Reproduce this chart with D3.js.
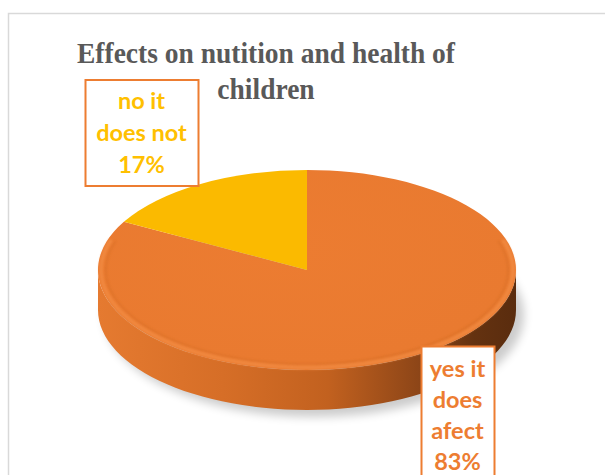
<!DOCTYPE html>
<html><head><meta charset="utf-8">
<script src="https://cdn.jsdelivr.net/npm/d3@7"></script>
<style>body{margin:0;background:#fff}svg{display:block}</style>
</head><body>
<script>
const titleLines = ["Effects on nutition and health of", "children"];
const categories = ["yes it does afect", "no it does not"];
const values = [83, 17];
const labelLines = [["yes it", "does", "afect", "83%"], ["no it", "does not", "17%"]];
const colors = ["#EC7C31", "#FBBA00"];
const textColors = ["#ED7D31", "#FFC000"];

(function () {
const W = 605, H = 475;
const svg = d3.select("body").append("svg").attr("width", W).attr("height", H);
const defs = svg.append("defs");

// frame
svg.append("rect").attr("x", 8.5).attr("y", 13.5).attr("width", 620).attr("height", 500)
  .attr("fill", "#fff").attr("stroke", "#D9D9D9").attr("stroke-width", 1.5);

// title
const ts = 1.08;
const title = svg.append("text").attr("text-anchor", "middle")
  .attr("transform", `translate(266,62.5) scale(1,${ts})`)
  .attr("font-family", "'Liberation Serif','Times New Roman',serif").attr("font-weight", "bold")
  .attr("font-size", 27.5).attr("fill", "#595959");
titleLines.forEach((t, i) => title.append("tspan").attr("x", 0).attr("y", i * 37 / ts).text(t));

// pie geometry
const cx = 307, cy = 270, rx = 209, ry = 100, depth = 40;
const pie = d3.pie().sort(null).value(d => d);
const arcsData = pie(values);
const arc = d3.arc().innerRadius(0).outerRadius(rx);
const ex = a => cx + rx * Math.sin(a);
const ey = a => cy - ry * Math.cos(a);

// shadow
const blur = defs.append("filter").attr("id", "blur").attr("x", "-20%").attr("y", "-20%").attr("width", "140%").attr("height", "140%");
blur.append("feGaussianBlur").attr("stdDeviation", 5);
svg.append("ellipse").attr("cx", cx + 7).attr("cy", cy + depth + 5).attr("rx", rx + 1).attr("ry", ry + 2)
  .attr("fill", "#000").attr("opacity", 0.2).attr("filter", "url(#blur)");

// side gradient
const sg = defs.append("linearGradient").attr("id", "side").attr("x1", 0).attr("x2", 1).attr("y1", 0).attr("y2", 0);
[[0, "#E57A30"], [0.3, "#D66E27"], [0.55, "#C2611F"], [0.78, "#8A4417"], [0.9, "#643210"], [1, "#5A2C0E"]]
  .forEach(([o, c]) => sg.append("stop").attr("offset", o).attr("stop-color", c));

// side walls (front half only)
const lineGen = d3.line().x(d => d[0]).y(d => d[1]);
arcsData.forEach((d, i) => {
  const a0 = Math.max(d.startAngle, Math.PI / 2), a1 = Math.min(d.endAngle, 3 * Math.PI / 2);
  if (a1 <= a0) return;
  const angs = d3.range(0, 61).map(k => a0 + (a1 - a0) * k / 60);
  const pts = angs.map(a => [ex(a), ey(a)]).concat(angs.slice().reverse().map(a => [ex(a), ey(a) + depth]));
  svg.append("path").attr("d", lineGen(pts) + "Z").attr("fill", i === 0 ? "url(#side)" : colors[i]);
});

// top gradient for subtle shading
const tg = defs.append("radialGradient").attr("id", "topg").attr("cx", "45%").attr("cy", "40%").attr("r", "65%");
tg.append("stop").attr("offset", 0).attr("stop-color", "#EC7C31");
tg.append("stop").attr("offset", 0.88).attr("stop-color", "#E97A30");
tg.append("stop").attr("offset", 1).attr("stop-color", "#E0742B");

// top slices
const topG = svg.append("g").attr("transform", `translate(${cx},${cy}) scale(1,${ry / rx})`);
topG.selectAll("path").data(arcsData).join("path")
  .attr("d", arc).attr("fill", (d, i) => i === 0 ? "url(#topg)" : colors[i]);

// bevel on rim (front)
const bevel = defs.append("filter").attr("id", "bblur");
bevel.append("feGaussianBlur").attr("stdDeviation", 1);
{
  const a0 = Math.PI * 0.4, a1 = Math.PI * 1.6;
  const angs = d3.range(0, 81).map(k => a0 + (a1 - a0) * k / 80);
  const ring = (dr, dry) => angs.map(a => [cx + (rx - dr) * Math.sin(a), cy - (ry - dry) * Math.cos(a)]);
  svg.append("path").attr("d", lineGen(ring(8, 6))).attr("fill", "none")
    .attr("stroke", "#CF6A24").attr("stroke-width", 1.6).attr("opacity", 0.45).attr("filter", "url(#bblur)");
  svg.append("path").attr("d", lineGen(ring(3, 2.5))).attr("fill", "none")
    .attr("stroke", "#F38D45").attr("stroke-width", 4).attr("opacity", 0.7).attr("filter", "url(#bblur)");
}

// labels
const boxes = [
  { x: 421, y: 346, w: 73, h: 140, cxT: 457.5, y0: 377, dy: 31 },
  { x: 85, y: 79.5, w: 113, h: 106, cxT: 141.5, y0: 109, dy: 32 }
];
boxes.forEach((b, i) => {
  svg.append("rect").attr("x", b.x + 0.5).attr("y", b.y + 0.5).attr("width", b.w).attr("height", b.h)
    .attr("fill", "#fff").attr("stroke", "#ED7D31").attr("stroke-width", 2);
  const t = svg.append("text").attr("text-anchor", "middle")
    .attr("font-family", "Lato, 'Open Sans', sans-serif").attr("font-weight", "bold")
    .attr("font-size", 23.5).attr("fill", textColors[i]);
  labelLines[i].forEach((l, k) => t.append("tspan").attr("x", b.cxT).attr("y", b.y0 + k * b.dy).text(l));
});
})();
</script>
</body></html>
